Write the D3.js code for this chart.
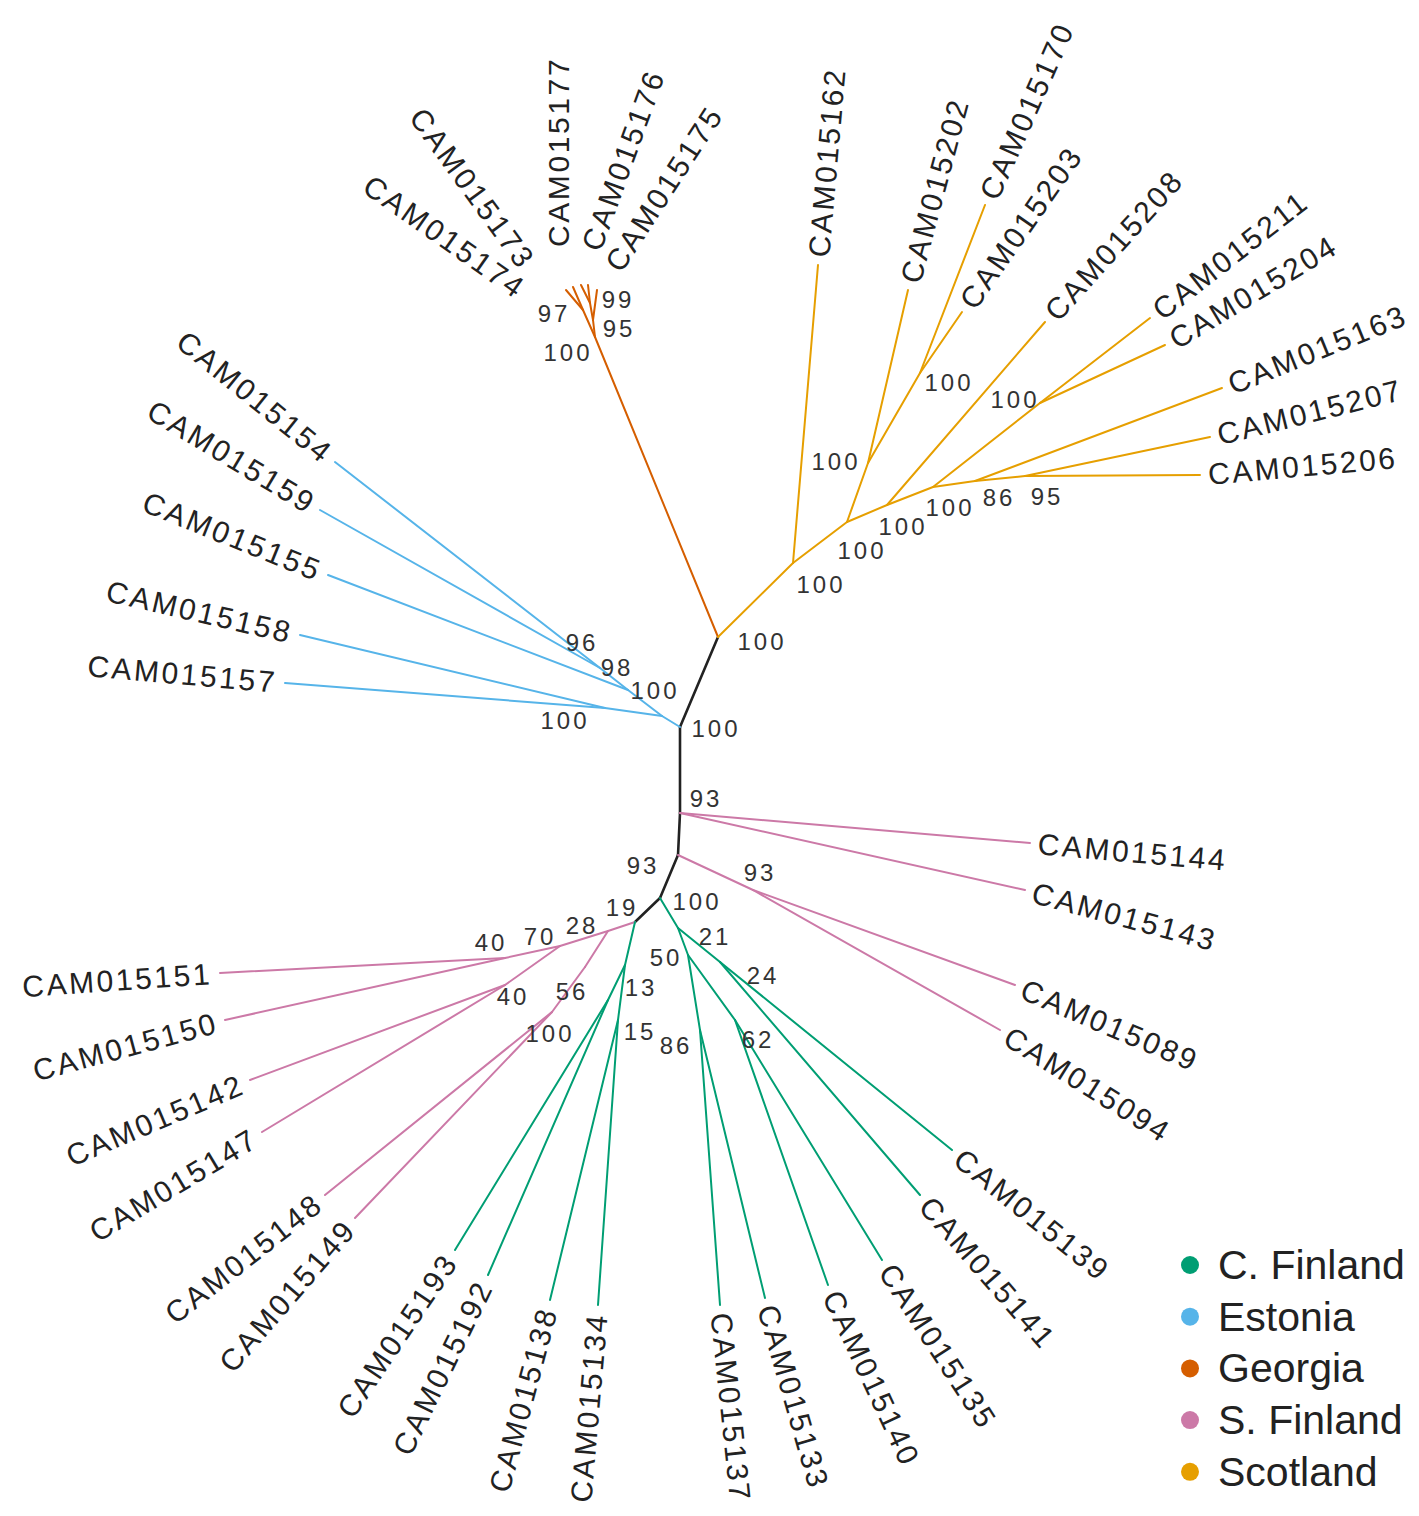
<!DOCTYPE html>
<html>
<head>
<meta charset="utf-8">
<script src="https://cdn.jsdelivr.net/npm/d3@7"></script>
<style>
  html, body { margin: 0; padding: 0; background: #fff; }
  svg { display: block; font-family: "Liberation Sans", Arial, Helvetica, sans-serif; }
</style>
</head>
<body>
<div id="chart"></div>
<script>
// -----------------------------
// 1. Data (tree space units, y up)
// -----------------------------
const groups = ["C. Finland", "Estonia", "Georgia", "S. Finland", "Scotland"];
const groupColors = ["#009E73", "#56B4E9", "#D55E00", "#CC79A7", "#E69F00"];

// internal nodes: id, parent, x, y, group (null = backbone), bootstrap
const internalNodes = [
  ["B", null, 0.00, 0.00, null, 100],
  ["A", "B", 0.38, 0.90, null, 100],
  ["C", "B", 0.00, -0.86, null, 93],
  ["D", "C", -0.02, -1.28, null, 93],
  ["E", "D", -0.20, -1.71, null, 100],
  ["F", "E", -0.45, -1.95, null, 19],
  // Georgia
  ["G0", "A", -0.85, 3.90, "Georgia", 100],
  ["G3", "G0", -0.97, 4.17, "Georgia", 97],
  ["G1", "G0", -0.87, 4.07, "Georgia", 95],
  ["G2", "G1", -0.90, 4.24, "Georgia", 99],
  // Scotland
  ["S1", "A", 1.13, 1.64, "Scotland", 100],
  ["S2", "S1", 1.67, 2.05, "Scotland", 100],
  ["S2b", "S2", 1.88, 2.64, "Scotland", 100],
  ["S2c", "S2b", 2.40, 3.54, "Scotland", 100],
  ["S3", "S2", 2.07, 2.22, "Scotland", 100],
  ["S4", "S3", 2.53, 2.40, "Scotland", 100],
  ["S4b", "S4", 3.60, 3.24, "Scotland", 100],
  ["S5", "S4", 2.95, 2.46, "Scotland", 86],
  ["S6", "S5", 3.45, 2.51, "Scotland", 95],
  // Estonia
  ["E0", "B", -0.18, 0.11, "Estonia", 100],
  ["E3", "E0", -0.75, 0.19, "Estonia", 100],
  ["E1", "E0", -0.52, 0.37, "Estonia", 98],
  ["E2", "E1", -0.80, 0.59, "Estonia", 96],
  // S. Finland
  ["D1", "D", 0.73, -1.63, "S. Finland", 93],
  ["P28", "F", -0.72, -2.04, "S. Finland", 28],
  ["P70", "P28", -1.20, -2.19, "S. Finland", 70],
  ["P40a", "P70", -1.75, -2.31, "S. Finland", 40],
  ["P40b", "P70", -1.75, -2.58, "S. Finland", 40],
  ["P56", "P28", -0.95, -2.40, "S. Finland", 56],
  ["P100", "P56", -1.28, -2.85, "S. Finland", 100],
  // C. Finland
  ["G21", "E", -0.02, -2.01, "C. Finland", 21],
  ["G50", "G21", 0.08, -2.28, "C. Finland", 50],
  ["G86", "G50", 0.20, -3.03, "C. Finland", 86],
  ["G62", "G50", 0.55, -2.93, "C. Finland", 62],
  ["G24", "G21", 0.40, -2.35, "C. Finland", 24],
  ["L13", "F", -0.55, -2.38, "C. Finland", 13],
  ["L0", "L13", -0.72, -2.73, "C. Finland", null],
  ["L15", "L13", -0.62, -2.93, "C. Finland", 15]
];

// tips: name, parent, x, y, group, label angle (deg, clockwise from east)
const tipNodes = [
  ["CAM015174", "G3", -1.14, 4.37, "Georgia", 215],
  ["CAM015173", "G3", -1.07, 4.40, "Georgia", 234],
  ["CAM015177", "G2", -0.99, 4.42, "Georgia", 270],
  ["CAM015176", "G2", -0.92, 4.42, "Georgia", 290],
  ["CAM015175", "G1", -0.83, 4.37, "Georgia", 303],
  ["CAM015162", "S1", 1.38, 4.62, "Scotland", -85],
  ["CAM015202", "S2b", 2.28, 4.37, "Scotland", -75],
  ["CAM015170", "S2c", 3.05, 5.22, "Scotland", -66],
  ["CAM015203", "S2c", 2.82, 4.15, "Scotland", -55],
  ["CAM015208", "S3", 3.65, 4.05, "Scotland", -48],
  ["CAM015211", "S4b", 4.70, 4.09, "Scotland", -38],
  ["CAM015204", "S4b", 4.85, 3.82, "Scotland", -31],
  ["CAM015163", "S5", 5.42, 3.39, "Scotland", -22],
  ["CAM015207", "S6", 5.30, 2.90, "Scotland", -14],
  ["CAM015206", "S6", 5.20, 2.52, "Scotland", -5],
  ["CAM015154", "E2", -3.45, 2.65, "Estonia", 219],
  ["CAM015159", "E2", -3.60, 2.17, "Estonia", 211],
  ["CAM015155", "E1", -3.52, 1.52, "Estonia", 202],
  ["CAM015158", "E3", -3.80, 0.92, "Estonia", 193],
  ["CAM015157", "E3", -3.95, 0.44, "Estonia", 185],
  ["CAM015144", "C", 3.50, -1.16, "S. Finland", 5],
  ["CAM015143", "C", 3.45, -1.63, "S. Finland", 15],
  ["CAM015089", "D1", 3.35, -2.58, "S. Finland", 23],
  ["CAM015094", "D1", 3.20, -3.03, "S. Finland", 32],
  ["CAM015139", "G24", 2.72, -4.23, "C. Finland", 39],
  ["CAM015141", "G24", 2.40, -4.68, "C. Finland", 49],
  ["CAM015135", "G62", 2.02, -5.33, "C. Finland", 57],
  ["CAM015140", "G62", 1.48, -5.58, "C. Finland", 65],
  ["CAM015133", "G86", 0.85, -5.71, "C. Finland", 74],
  ["CAM015137", "G86", 0.40, -5.78, "C. Finland", 84],
  ["CAM015134", "L15", -0.82, -5.78, "C. Finland", 95],
  ["CAM015138", "L15", -1.30, -5.73, "C. Finland", 105],
  ["CAM015192", "L0", -1.92, -5.48, "C. Finland", 116],
  ["CAM015193", "L0", -2.25, -5.23, "C. Finland", 124],
  ["CAM015149", "P100", -3.25, -4.91, "S. Finland", 131],
  ["CAM015148", "P100", -3.55, -4.68, "S. Finland", 142],
  ["CAM015147", "P40b", -4.18, -4.05, "S. Finland", 149],
  ["CAM015142", "P40b", -4.30, -3.53, "S. Finland", 157],
  ["CAM015150", "P40a", -4.55, -2.93, "S. Finland", 165],
  ["CAM015151", "P40a", -4.60, -2.46, "S. Finland", 176]
];

// -----------------------------
// 2. Layout tweaks (pixels)
// -----------------------------
const supportNudge = {
  B: [36, 1], A: [44, 4], C: [26, -15], D: [-35, 10], E: [37, 3], F: [-13, -15],
  G0: [-27, 15], G3: [-29, 3], G1: [26, 8], G2: [28, -4],
  S1: [28, 21], S2: [15, 28], S2b: [-32, -2], S2c: [29, 9], S3: [16, 21],
  S4: [17, 20], S4b: [-25, -4], S5: [24, 16], S6: [22, 20],
  E0: [-7, -26], E3: [-40, 12], E1: [-11, -23], E2: [-18, -26],
  D1: [7, -18], P28: [-26, -6], P70: [-20, -10], P40a: [-14, -16], P40b: [8, 11],
  P56: [-13, 24], P100: [-2, 21],
  G21: [37, 8], G50: [-22, 2], G86: [-24, 15], G62: [23, 19], G24: [43, 13],
  L13: [16, 22], L15: [22, 11]
};
const labelShift = {
  CAM015174: [-37, 6], CAM015173: [-40, -15], CAM015177: [-23, -30],
  CAM015176: [0, -28], CAM015175: [11, -15]
};

// -----------------------------
// 3. Setup
// -----------------------------
const width = 1419, height = 1516;

const svg = d3.select("#chart").append("svg")
  .attr("width", width)
  .attr("height", height)
  .attr("viewBox", `0 0 ${width} ${height}`);

svg.append("rect").attr("width", width).attr("height", height).attr("fill", "#fff");

const x = d3.scaleLinear().domain([-6.8, 7.39]).range([0, width]);
const y = d3.scaleLinear().domain([7.27, -7.89]).range([0, height]);
const color = d3.scaleOrdinal().domain(groups).range(groupColors);

const nodes = internalNodes.map(d => ({ id: d[0], parent: d[1], x: d[2], y: d[3], group: d[4], support: d[5], tip: false }))
  .concat(tipNodes.map(d => ({ id: d[0], parent: d[1], x: d[2], y: d[3], group: d[4], angle: d[5], tip: true })));
const byId = new Map(nodes.map(d => [d.id, d]));
const links = nodes.filter(d => d.parent).map(d => ({ source: byId.get(d.parent), target: d }));

// -----------------------------
// 4. Branches
// -----------------------------
svg.append("g")
  .selectAll("line")
  .data(links)
  .join("line")
  .attr("x1", d => x(d.source.x))
  .attr("y1", d => y(d.source.y))
  .attr("x2", d => x(d.target.x))
  .attr("y2", d => y(d.target.y))
  .attr("stroke", d => d.target.group ? color(d.target.group) : "#222")
  .attr("stroke-width", d => d.target.group ? 2 : 2.6)
  .attr("stroke-linecap", "round");

// -----------------------------
// 5. Bootstrap labels
// -----------------------------
svg.append("g")
  .selectAll("text")
  .data(nodes.filter(d => !d.tip && d.support != null))
  .join("text")
  .attr("x", d => x(d.x) + (supportNudge[d.id] || [0, 0])[0])
  .attr("y", d => y(d.y) + (supportNudge[d.id] || [0, 0])[1])
  .attr("text-anchor", "middle")
  .attr("dominant-baseline", "central")
  .attr("fill", "#333")
  .style("font-size", "24px")
  .style("letter-spacing", "3px")
  .text(d => d.support);

// -----------------------------
// 6. Tip labels
// -----------------------------
const gap = 8;
svg.append("g")
  .selectAll("text")
  .data(nodes.filter(d => d.tip))
  .join("text")
  .attr("transform", d => {
    const a = d.angle * Math.PI / 180;
    const s = labelShift[d.id] || [0, 0];
    const px = x(d.x) + gap * Math.cos(a) + s[0];
    const py = y(d.y) + gap * Math.sin(a) + s[1];
    const rot = Math.cos(a) < -1e-6 ? d.angle - 180 : d.angle;
    return `translate(${px},${py}) rotate(${rot})`;
  })
  .attr("text-anchor", d => Math.cos(d.angle * Math.PI / 180) < -1e-6 ? "end" : "start")
  .attr("dominant-baseline", "central")
  .attr("fill", "#222")
  .style("font-size", "30px")
  .style("letter-spacing", "2.6px")
  .text(d => d.id);

// -----------------------------
// 7. Legend
// -----------------------------
const legend = svg.append("g").attr("transform", "translate(1190,1265)");
groups.forEach((g, i) => {
  legend.append("circle")
    .attr("cx", 0)
    .attr("cy", i * 51.7)
    .attr("r", 9)
    .attr("fill", color(g));
  legend.append("text")
    .attr("x", 28)
    .attr("y", i * 51.7)
    .attr("dominant-baseline", "central")
    .attr("fill", "#222")
    .style("font-size", "41px")
    .text(g);
});
</script>
</body>
</html>
